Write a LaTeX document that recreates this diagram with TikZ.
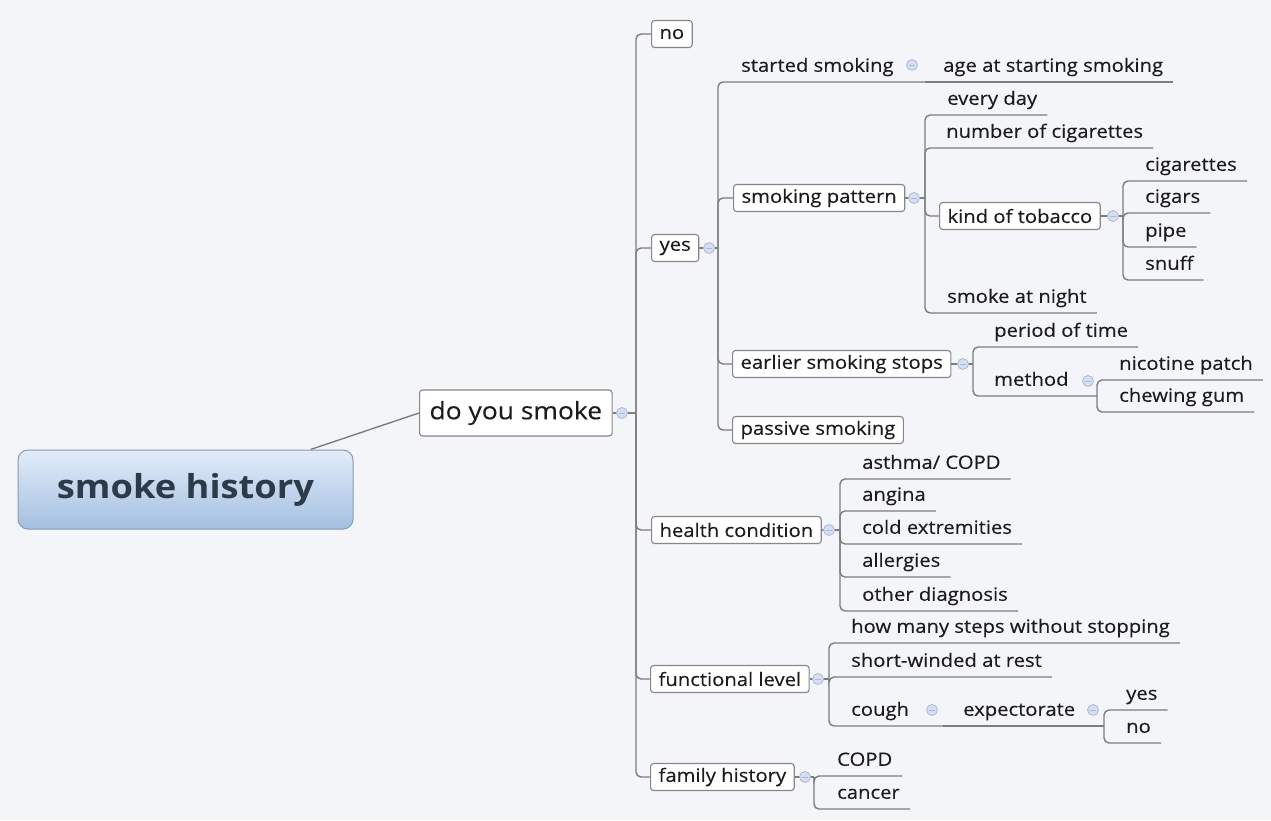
\documentclass[tikz,border=0pt]{standalone}
\usepackage{fontspec}
\setmainfont{Open Sans}[FakeStretch=1.1]
\newfontfamily\mapfont{Open Sans}[FakeStretch=1.1,FakeBold=0.3]

\definecolor{bg}{RGB}{244,245,249}
\definecolor{linegray}{RGB}{125,125,125}
\definecolor{boxgray}{RGB}{135,135,135}
\definecolor{ink}{RGB}{28,28,28}
\definecolor{rootink}{RGB}{44,58,74}
\definecolor{roottop}{RGB}{226,236,248}
\definecolor{rootbot}{RGB}{164,191,225}
\definecolor{rootline}{RGB}{135,155,185}
\definecolor{foldfill}{RGB}{214,223,241}
\definecolor{foldline}{RGB}{170,185,215}

\tikzset{
  link/.style={draw=linegray,line width=1.4pt,rounded corners=5pt},
  topic/.style={draw=boxgray,fill=white,line width=1.1pt,rounded corners=3pt,anchor=west,inner xsep=8pt,inner ysep=0pt,minimum height=27pt,font=\mapfont\fontsize{18.4}{20}\selectfont,text=ink},
  leaf/.style={anchor=south west,inner xsep=10pt,inner ysep=0pt,text height=13pt,text depth=10pt,font=\mapfont\fontsize{18.4}{20}\selectfont,text=ink},
  fold/.style={circle,draw=foldline,fill=foldfill,line width=0.8pt,minimum size=11pt,inner sep=0pt,
    path picture={\draw[foldline,line width=1pt] ([xshift=-3pt]path picture bounding box.center) -- ([xshift=3pt]path picture bounding box.center);}},
}

\begin{document}
\begin{tikzpicture}[x=1pt,y=-1pt]
\fill[bg] (0,0) rectangle (1271,820);

\node[draw=rootline,line width=1pt,rounded corners=10pt,top color=roottop,bottom color=rootbot,minimum width=335pt,minimum height=79pt,font=\bfseries\fontsize{33}{36}\selectfont,text=rootink] (root) at (185.5,489.5) {smoke history};
\node[topic,inner xsep=10pt,minimum height=46pt,font=\mapfont\fontsize{24}{26}\selectfont] (dys) at (419,413) {do you smoke};

\node[topic] (no) at (651,34) {no};
\node[topic] (yes) at (651,248) {yes};
\node[topic] (hc) at (651,530) {health condition};
\node[topic] (fl) at (650,679) {functional level};
\node[topic] (fh) at (650,777) {family history};

\node[topic] (sp) at (733,198) {smoking pattern};
\node[topic] (ess) at (732,364) {earlier smoking stops};
\node[topic] (pas) at (732,430) {passive smoking};
\node[topic] (kot) at (939,216) {kind of tobacco};

\node[leaf] (ss) at (731,82) {started smoking};
\node[leaf] (age) at (933,82) {age at starting smoking};
\node[leaf] (evd) at (937,115) {every day};
\node[leaf] (noc) at (936,148) {number of cigarettes};
\node[leaf] (san) at (937,313) {smoke at night};
\foreach \y/\t [count=\n] in {181/cigarettes,213/cigars,247/pipe,280/snuff}
  \node[leaf] (T\n) at (1135,\y) {\t};
\node[leaf] (pot) at (984,347) {period of time};
\node[leaf] (mth) at (984,396) {method};
\node[leaf] (ncp) at (1109,380) {nicotine patch};
\node[leaf] (chg) at (1109,412) {chewing gum};
\foreach \y/\t [count=\n] in {479/{asthma/ COPD},511/angina,544/cold extremities,577/allergies,611/other diagnosis}
  \node[leaf] (H\n) at (852,\y) {\t};
\node[leaf] (hms) at (841,643) {how many steps without stopping};
\node[leaf] (swr) at (841,677) {short-winded at rest};
\node[leaf] (cgh) at (841,726) {cough};
\node[leaf] (exp) at (953,726) {expectorate};
\node[leaf] (ey) at (1116,710) {yes};
\node[leaf] (en) at (1116,743) {no};
\foreach \y/\t [count=\n] in {776/COPD,809/cancer}
  \node[leaf] (F\n) at (827,\y) {\t};

\coordinate (b0) at (636,413);
\coordinate (b1) at (718,248);
\coordinate (b2) at (925,82);
\coordinate (b3) at (925,198);
\coordinate (b4) at (1123,216);
\coordinate (b5) at (973,364);
\coordinate (b6) at (1097,396);
\coordinate (b7) at (840,530);
\coordinate (b8) at (829,679);
\coordinate (b9) at (943,726);
\coordinate (b10) at (1104,726);
\coordinate (b11) at (814,777);

\draw[link] ([xshift=-43pt]root.north east) -- (dys.west);
\draw[link] (dys.east) -- (b0);
\foreach \n in {no,yes,hc,fl,fh}
  \draw[link] (b0) |- (\n.west);

\draw[link] (yes.east) -- (b1);
\draw[link] (b1) |- (ss.south west) -- (b2);
\draw[link] (b2) -- (age.south west) -- (age.south east);
\foreach \n in {sp,ess,pas}
  \draw[link] (b1) |- (\n.west);

\draw[link] (sp.east) -- (b3);
\foreach \n in {evd,noc,san}
  \draw[link] (b3) |- (\n.south west) -- (\n.south east);
\draw[link] (b3) |- (kot.west);

\draw[link] (kot.east) -- (b4);
\foreach \n in {1,...,4}
  \draw[link] (b4) |- (T\n.south west) -- (T\n.south east);

\draw[link] (ess.east) -- (b5);
\draw[link] (b5) |- (pot.south west) -- (pot.south east);
\draw[link] (b5) |- (mth.south west) -- (b6);
\foreach \n in {ncp,chg}
  \draw[link] (b6) |- (\n.south west) -- (\n.south east);

\draw[link] (hc.east) -- (b7);
\foreach \n in {1,...,5}
  \draw[link] (b7) |- (H\n.south west) -- (H\n.south east);

\draw[link] (fl.east) -- (b8);
\foreach \n in {hms,swr}
  \draw[link] (b8) |- (\n.south west) -- (\n.south east);
\draw[link] (b8) |- (cgh.south west) -- (b9);
\draw[link] (b9) -- (exp.south west) -- (b10);
\foreach \n in {ey,en}
  \draw[link] (b10) |- (\n.south west) -- (\n.south east);

\draw[link] (fh.east) -- (b11);
\foreach \n in {1,2}
  \draw[link] (b11) |- (F\n.south west) -- (F\n.south east);

\node[fold] (f0) at (622,413) {};
\node[fold] (f1) at (709,248) {};
\node[fold] (f2) at (912,65) {};
\node[fold] (f3) at (914,198) {};
\node[fold] (f4) at (1113,216) {};
\node[fold] (f5) at (963,364) {};
\node[fold] (f6) at (1088,381) {};
\node[fold] (f7) at (829,530) {};
\node[fold] (f8) at (818,679) {};
\node[fold] (f9) at (932,710) {};
\node[fold] (f10) at (1093,710) {};
\node[fold] (f11) at (805,777) {};
\end{tikzpicture}
\end{document}
